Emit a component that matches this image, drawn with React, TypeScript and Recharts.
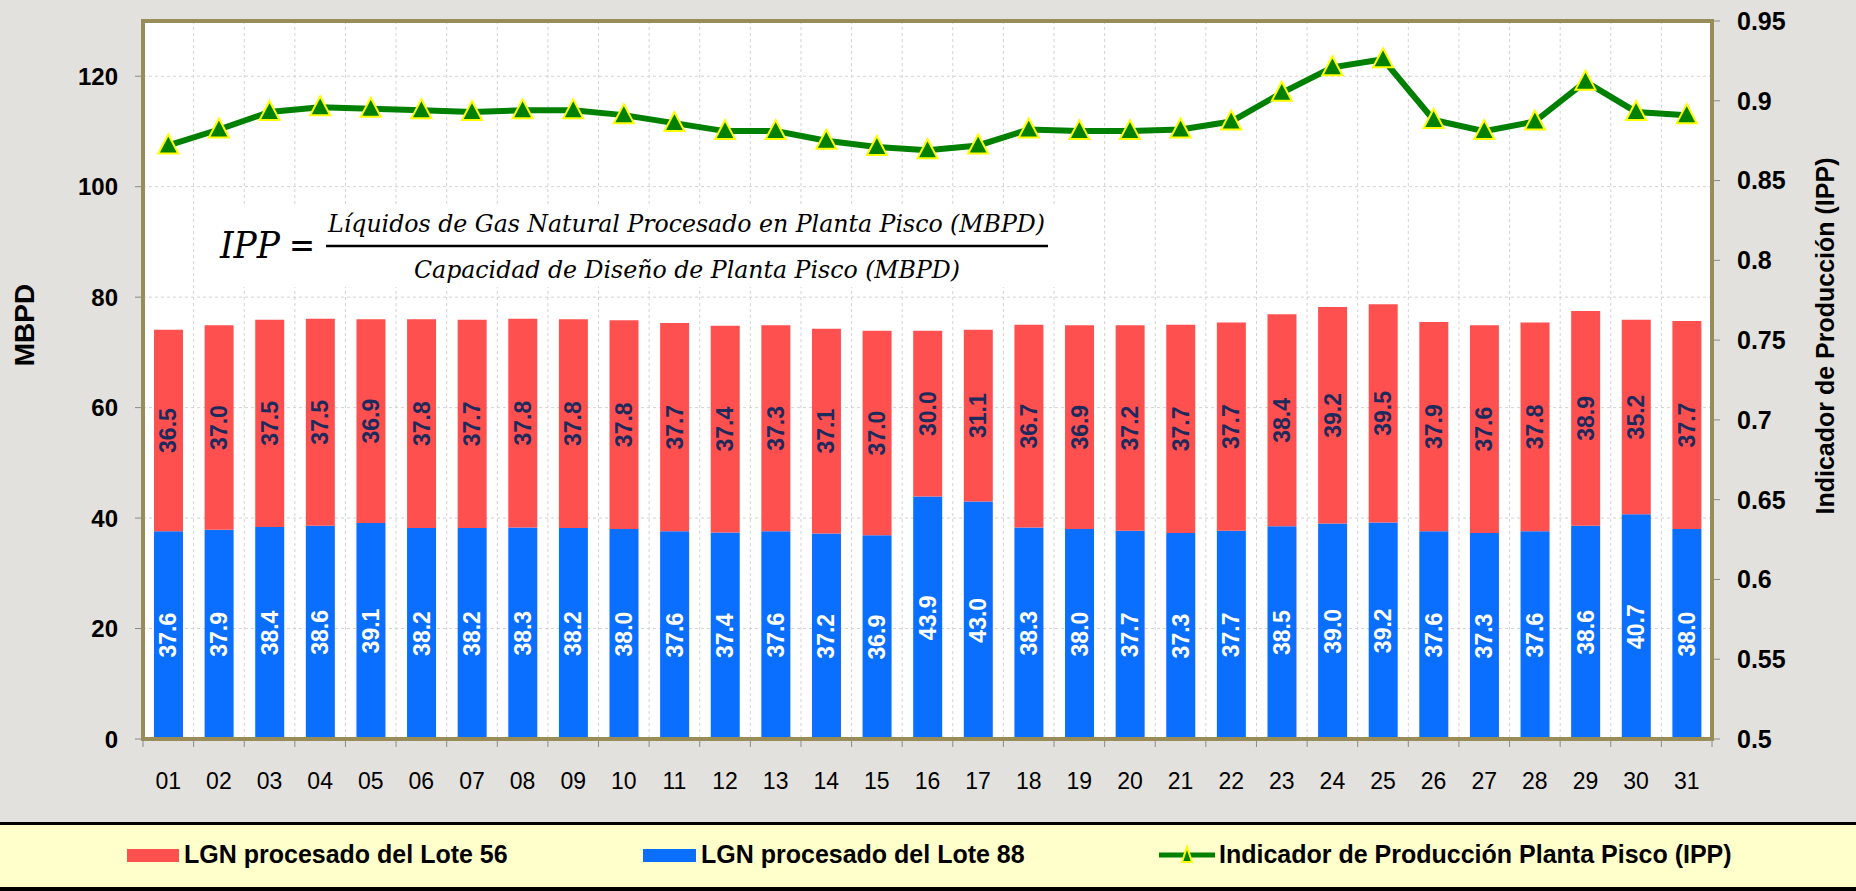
import React from 'react';
import { ComposedChart, Bar, Line, XAxis, YAxis, CartesianGrid, LabelList } from 'recharts';

const days = ['01','02','03','04','05','06','07','08','09','10','11','12','13','14','15','16','17','18','19','20','21','22','23','24','25','26','27','28','29','30','31'];
const lote88 = [37.6,37.9,38.4,38.6,39.1,38.2,38.2,38.3,38.2,38.0,37.6,37.4,37.6,37.2,36.9,43.9,43.0,38.3,38.0,37.7,37.3,37.7,38.5,39.0,39.2,37.6,37.3,37.6,38.6,40.7,38.0];
const lote56 = [36.5,37.0,37.5,37.5,36.9,37.8,37.7,37.8,37.8,37.8,37.7,37.4,37.3,37.1,37.0,30.0,31.1,36.7,36.9,37.2,37.7,37.7,38.4,39.2,39.5,37.9,37.6,37.8,38.9,35.2,37.7];
const ipp = [0.872,0.882,0.893,0.896,0.895,0.894,0.893,0.894,0.894,0.891,0.886,0.881,0.881,0.875,0.871,0.869,0.872,0.882,0.881,0.881,0.882,0.887,0.905,0.921,0.926,0.888,0.881,0.887,0.912,0.893,0.891];
const leftTicks = [0,20,40,60,80,100,120];
const rightTicks = [0.5,0.55,0.6,0.65,0.7,0.75,0.8,0.85,0.9,0.95];

const seriesNames = ['LGN procesado del Lote 56', 'LGN procesado del Lote 88', 'Indicador de Producción Planta Pisco (IPP)'];
const leftTitle = 'MBPD';
const rightTitle = 'Indicador de Producción (IPP)';
const formulaLeft = 'IPP';
const formulaNum = 'Líquidos de Gas Natural Procesado en Planta Pisco (MBPD)';
const formulaDen = 'Capacidad de Diseño de Planta Pisco (MBPD)';

const data = days.map((d, i) => ({ day: d, lote88: lote88[i], lote56: lote56[i], ipp: ipp[i] }));

const W = 1856;
const H = 891;
const CHART_H = 822;
const PLOT_L = 143;
const PLOT_R = 1712;
const PLOT_T = 21;
const PLOT_B = 739;
const PLOT_W = PLOT_R - PLOT_L;
const BAND = PLOT_W / days.length;
const vPoints = days.slice(1).map((_, i) => PLOT_L + (i + 1) * BAND);

const BLUE = '#0A6EFF';
const RED = '#FF5050';
const GREEN = '#008000';
const OLIVE = '#988C58';
const SANS = '"Liberation Sans", Arial, Helvetica, sans-serif';
const SERIF = '"DejaVu Serif Condensed", "DejaVu Serif", "Liberation Serif", serif';

const makeLabel = (color: string) => (props: any) => {
  const vb = props.viewBox || {};
  const x = props.x ?? vb.x;
  const y = props.y ?? vb.y;
  const w = props.width ?? vb.width;
  const h = props.height ?? vb.height;
  if (x == null || y == null) return null;
  const cx = x + w / 2;
  const cy = y + h / 2;
  return (
    <text
      x={cx}
      y={cy}
      transform={`rotate(-90, ${cx}, ${cy})`}
      textAnchor="middle"
      dominantBaseline="central"
      fill={color}
      fontSize={23}
      fontWeight="bold"
      fontFamily={SANS}
    >
      {Number(props.value).toFixed(1)}
    </text>
  );
};

const XTick = (props: any) => {
  const { x, payload, index } = props;
  return (
    <g>
      <line x1={x - BAND / 2} y1={PLOT_B} x2={x - BAND / 2} y2={PLOT_B + 8} stroke="#8A8A8A" strokeWidth={1} />
      {index === days.length - 1 && (
        <line x1={x + BAND / 2} y1={PLOT_B} x2={x + BAND / 2} y2={PLOT_B + 8} stroke="#8A8A8A" strokeWidth={1} />
      )}
      <text x={x} y={PLOT_B + 50} textAnchor="middle" fontSize={23} fill="#000" fontFamily={SANS}>
        {payload.value}
      </text>
    </g>
  );
};

const Tri = (props: any) => {
  const { cx, cy } = props;
  if (cx == null || cy == null) return null;
  const pts = `${cx},${cy - 11} ${cx - 10},${cy + 8} ${cx + 10},${cy + 8}`;
  return <polygon points={pts} fill={GREEN} stroke="#FFFF00" strokeWidth={2} />;
};

export default function App() {
  return (
    <div style={{ position: 'absolute', left: 0, top: 0, width: W, height: H, background: '#E2E1DD', overflow: 'hidden', fontFamily: SANS }}>
      <ComposedChart width={W} height={CHART_H} data={data} margin={{ top: PLOT_T, right: 0, bottom: 0, left: 0 }}>
        <CartesianGrid yAxisId="left" stroke="#D2D2D2" strokeDasharray="3 3" fill="#FFFFFF" verticalPoints={vPoints} />
        <XAxis dataKey="day" height={CHART_H - PLOT_B} tick={<XTick />} tickLine={false} axisLine={false} interval={0} />
        <YAxis
          yAxisId="left"
          width={PLOT_L}
          domain={[0, 130]}
          ticks={leftTicks}
          tickSize={8}
          tickMargin={17}
          tick={{ fontSize: 24, fontWeight: 'bold', fill: '#000', fontFamily: SANS }}
          tickLine={{ stroke: '#8A8A8A' }}
          axisLine={false}
          allowDataOverflow
        />
        <YAxis
          yAxisId="right"
          orientation="right"
          width={W - PLOT_R}
          domain={[0.5, 0.95]}
          ticks={rightTicks}
          tickSize={8}
          tickMargin={17}
          tick={{ fontSize: 25, fontWeight: 'bold', fill: '#000', fontFamily: SANS }}
          tickLine={{ stroke: '#8A8A8A' }}
          axisLine={false}
          tickFormatter={(v: number) => String(v)}
          allowDataOverflow
        />
        <Bar yAxisId="left" dataKey="lote88" name={seriesNames[1]} stackId="a" fill={BLUE} barSize={29} isAnimationActive={false}>
          <LabelList dataKey="lote88" content={makeLabel('#FFFFFF')} />
        </Bar>
        <Bar yAxisId="left" dataKey="lote56" name={seriesNames[0]} stackId="a" fill={RED} barSize={29} isAnimationActive={false}>
          <LabelList dataKey="lote56" content={makeLabel('#1C2A5C')} />
        </Bar>
        <Line
          yAxisId="right"
          type="linear"
          dataKey="ipp"
          name={seriesNames[2]}
          stroke={GREEN}
          strokeWidth={6}
          dot={<Tri />}
          activeDot={false}
          isAnimationActive={false}
        />
      </ComposedChart>
      <svg width={W} height={H} style={{ position: 'absolute', left: 0, top: 0, pointerEvents: 'none' }}>
        <rect x={PLOT_L} y={PLOT_T} width={PLOT_W} height={PLOT_B - PLOT_T} fill="none" stroke={OLIVE} strokeWidth={4} />
        {/* formula */}
        <rect x={205} y={205} width={850} height={82} fill="#FFFFFF" />
        <text x={220} y={258} fontFamily={SERIF} fontStyle="italic" fontSize={38} fill="#000" textLength={60} lengthAdjust="spacingAndGlyphs">{formulaLeft}</text>
        <text x={289} y={258} fontFamily={SERIF} fontSize={38} fill="#000" textLength={26} lengthAdjust="spacingAndGlyphs">=</text>
        <line x1={326} y1={246} x2={1048} y2={246} stroke="#000" strokeWidth={2.5} />
        <text x={328} y={232} fontFamily={SERIF} fontStyle="italic" fontSize={24} fill="#000" textLength={717} lengthAdjust="spacingAndGlyphs">{formulaNum}</text>
        <text x={414} y={278} fontFamily={SERIF} fontStyle="italic" fontSize={24} fill="#000" textLength={546} lengthAdjust="spacingAndGlyphs">{formulaDen}</text>
        {/* axis titles */}
        <text x={24} y={325} transform="rotate(-90, 24, 325)" textAnchor="middle" dominantBaseline="central" fontFamily={SANS} fontWeight="bold" fontSize={28} fill="#000">{leftTitle}</text>
        <text x={1825} y={336} transform="rotate(-90, 1825, 336)" textAnchor="middle" dominantBaseline="central" fontFamily={SANS} fontWeight="bold" fontSize={25} fill="#000">{rightTitle}</text>
        {/* legend */}
        <rect x={0} y={822} width={W} height={69} fill="#FFFFCC" />
        <rect x={0} y={822} width={W} height={3} fill="#000" />
        <rect x={0} y={887} width={W} height={4} fill="#000" />
        <rect x={127} y={849} width={52} height={13} fill={RED} />
        <text x={184} y={863} fontFamily={SANS} fontWeight="bold" fontSize={25} fill="#000">{seriesNames[0]}</text>
        <rect x={643} y={849} width={53} height={13} fill={BLUE} />
        <text x={701} y={863} fontFamily={SANS} fontWeight="bold" fontSize={25} fill="#000">{seriesNames[1]}</text>
        <line x1={1159} y1={855} x2={1215} y2={855} stroke={GREEN} strokeWidth={5} />
        <polygon points="1187,847 1182,862 1192,862" fill={GREEN} stroke="#FFFF00" strokeWidth={2} />
        <text x={1219} y={863} fontFamily={SANS} fontWeight="bold" fontSize={25} fill="#000">{seriesNames[2]}</text>
      </svg>
    </div>
  );
}
